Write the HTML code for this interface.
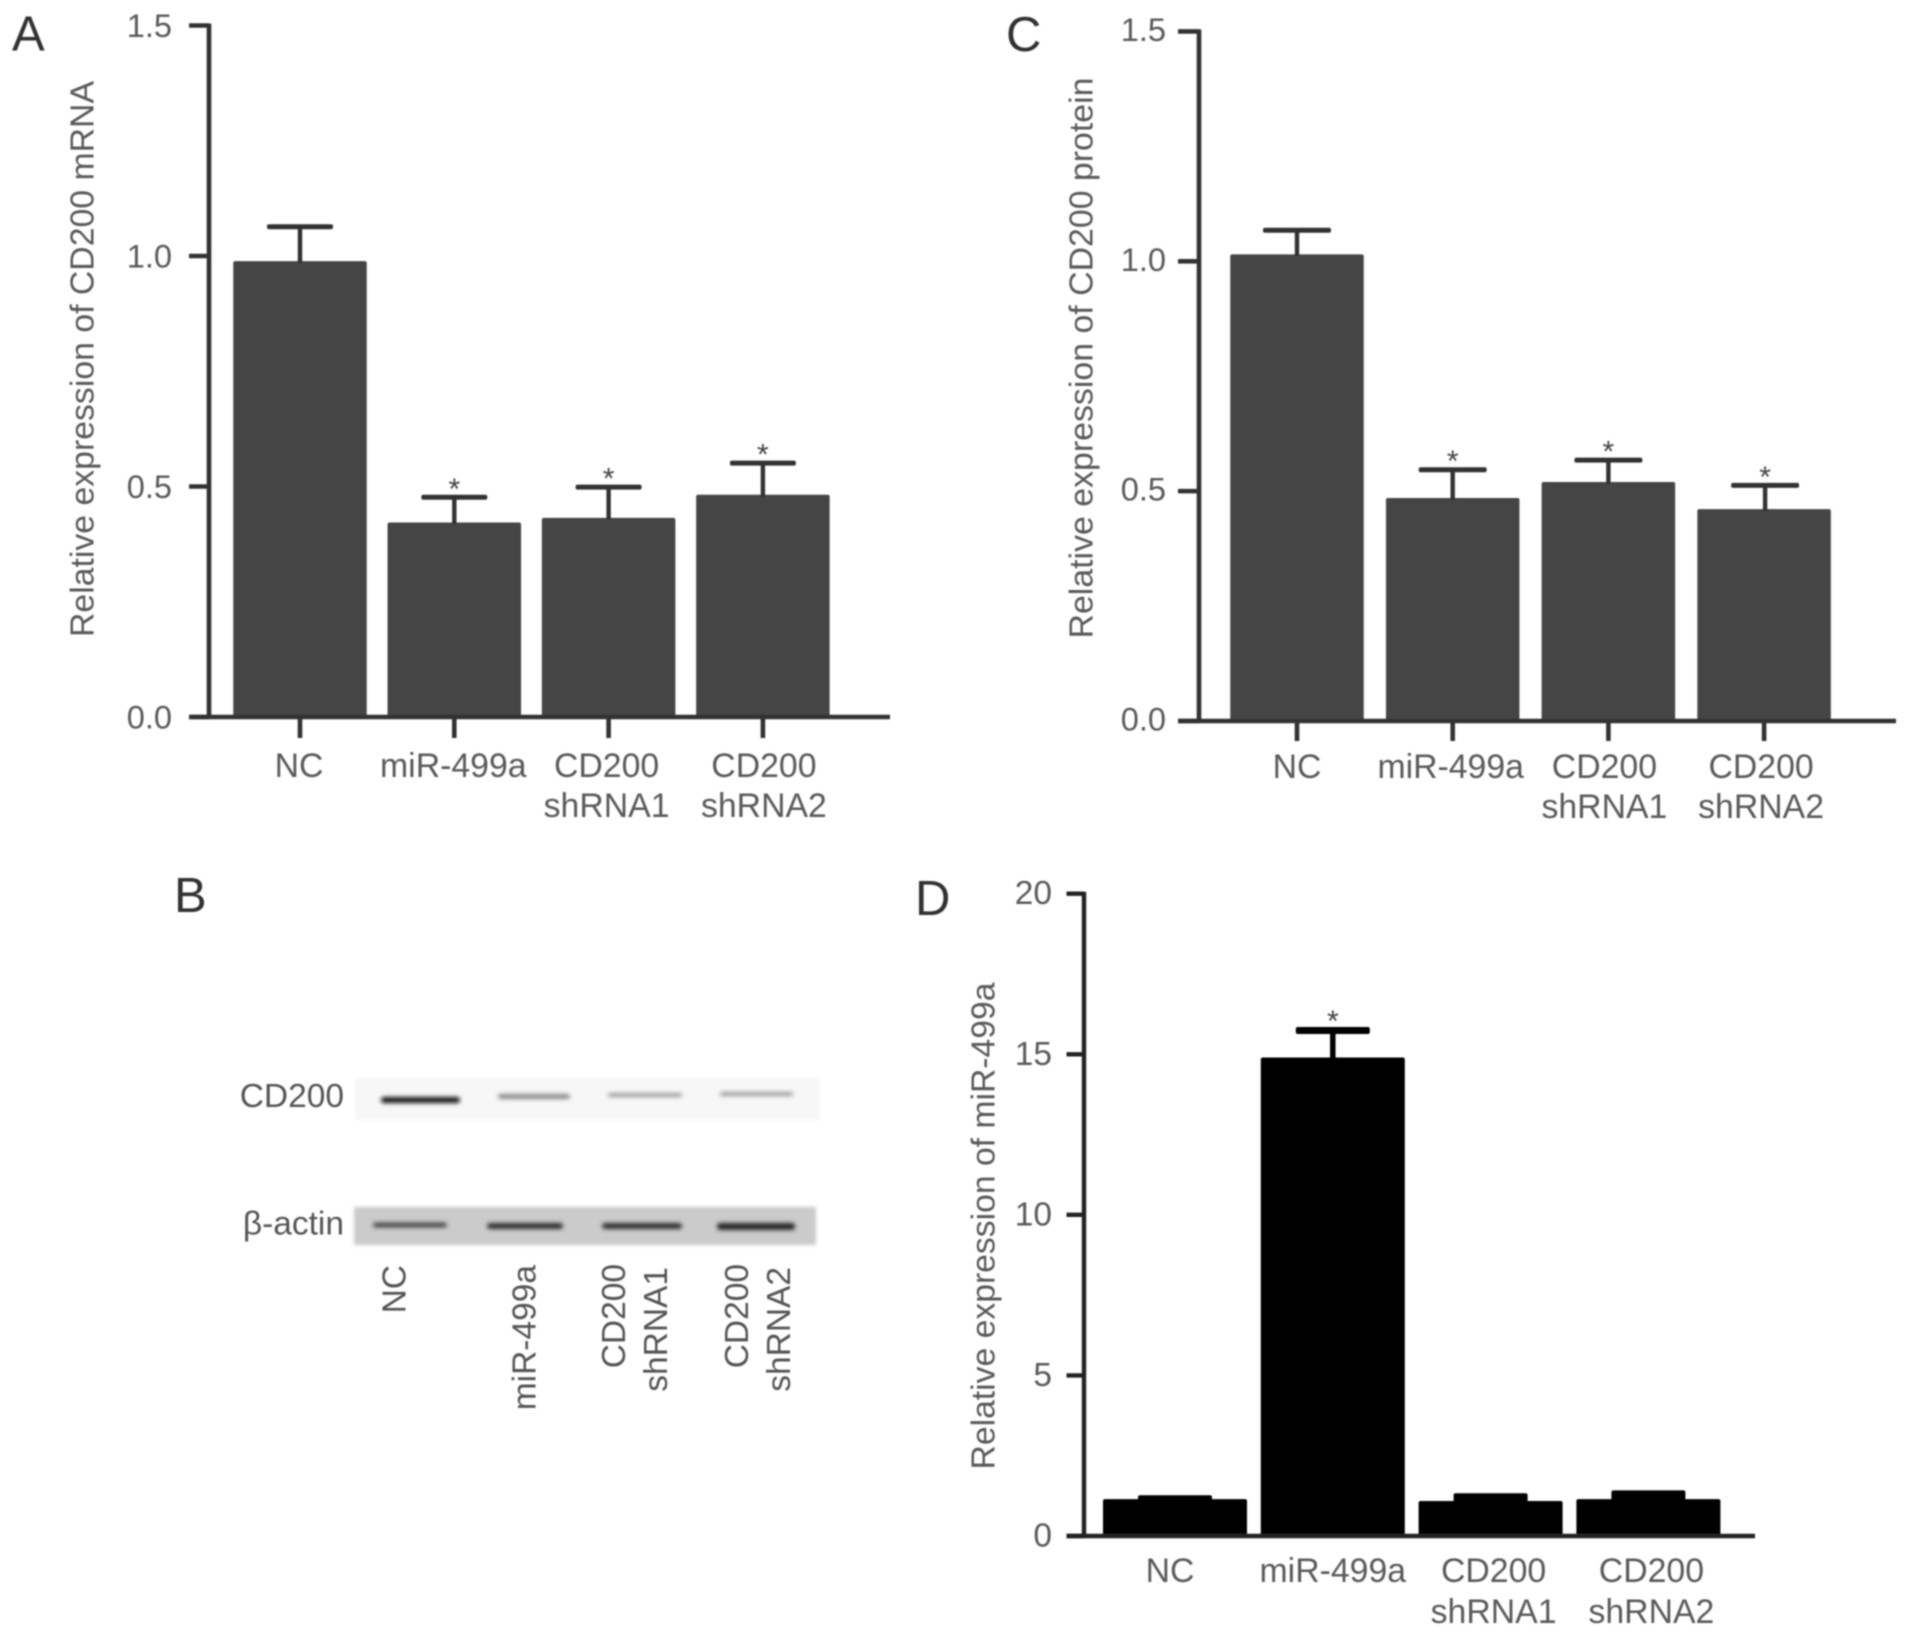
<!DOCTYPE html>
<html lang="en">
<head>
<meta charset="utf-8">
<title>CD200 and miR-499a expression</title>
<style>
html,body{margin:0;padding:0;background:#fff;}
svg{display:block;}
text{font-family:"Liberation Sans",sans-serif;}
</style>
</head>
<body>
<svg id="figure" xmlns="http://www.w3.org/2000/svg" width="1913" height="1637" viewBox="0 0 1913 1637">
  <defs>
    <filter id="soft" x="-5%" y="-5%" width="110%" height="110%"><feGaussianBlur stdDeviation="0.7"/></filter>
    <filter id="bandBlur" x="-20%" y="-300%" width="140%" height="700%"><feGaussianBlur stdDeviation="2"/></filter>
    <filter id="edgeBlur" x="-5%" y="-20%" width="110%" height="140%"><feGaussianBlur stdDeviation="1.5"/></filter>
  </defs>
  <rect width="1913" height="1637" fill="#fff"/>
  <g id="root" filter="url(#soft)">
    <text x="12" y="50.5" font-size="49" fill="#333">A</text>
    <text x="1006" y="51" font-size="49" fill="#333">C</text>
    <text x="174" y="912" font-size="49" fill="#333">B</text>
    <text x="915" y="915" font-size="49" fill="#333">D</text>

    <g>
      <rect x="355" y="1078" width="465" height="42" fill="#f7f7f7" filter="url(#edgeBlur)"/>
      <rect x="354" y="1207" width="462" height="38" fill="#cbcbcb" filter="url(#edgeBlur)"/>
      <g filter="url(#bandBlur)">
        <rect x="381" y="1097" width="79" height="6" rx="3" fill="#111"/>
        <rect x="498" y="1094" width="72" height="5" rx="2.5" fill="#888"/>
        <rect x="608" y="1093" width="74" height="4" rx="2" fill="#999"/>
        <rect x="720" y="1092" width="73" height="4" rx="2" fill="#999"/>
      </g>
      <g filter="url(#bandBlur)">
        <rect x="373" y="1222.5" width="74" height="5" rx="2.5" fill="#444"/>
        <rect x="487" y="1223" width="76" height="6" rx="3" fill="#2a2a2a"/>
        <rect x="602" y="1223" width="80" height="6" rx="3" fill="#2a2a2a"/>
        <rect x="717" y="1223" width="78" height="7" rx="3" fill="#222"/>
      </g>
      <text x="344" y="1107" font-size="33.5" fill="#555" text-anchor="end">CD200</text>
      <text x="344" y="1234.5" font-size="33.5" fill="#555" text-anchor="end">β-actin</text>
      <text transform="translate(405.7,1265) rotate(-90)" font-size="33.5" fill="#555" text-anchor="end">NC</text>
      <text transform="translate(535.7,1265) rotate(-90)" font-size="33.5" fill="#555" text-anchor="end">miR-499a</text>
      <text transform="translate(625,1264) rotate(-90)" font-size="33.5" fill="#555" text-anchor="end">CD200</text>
      <text transform="translate(667,1267) rotate(-90)" font-size="33.5" fill="#555" text-anchor="end">shRNA1</text>
      <text transform="translate(748,1264) rotate(-90)" font-size="33.5" fill="#555" text-anchor="end">CD200</text>
      <text transform="translate(790,1267) rotate(-90)" font-size="33.5" fill="#555" text-anchor="end">shRNA2</text>
    </g>
  </g>
</svg>
<script>
// Shared categories (newline = second label row)
const categories = ['NC', 'miR-499a', 'CD200\nshRNA1', 'CD200\nshRNA2'];

// Panel A: CD200 mRNA
const mrnaMeans = [0.989, 0.422, 0.432, 0.482];
const mrnaErrorTops = [1.069, 0.482, 0.504, 0.556];
const mrnaSignificant = [false, true, true, true];
const mrnaTicks = ['0.0', '0.5', '1.0', '1.5'];

// Panel C: CD200 protein
const proteinMeans = [1.015, 0.485, 0.52, 0.461];
const proteinErrorTops = [1.073, 0.552, 0.573, 0.518];
const proteinSignificant = [false, true, true, true];
const proteinTicks = ['0.0', '0.5', '1.0', '1.5'];

// Panel D: miR-499a
const mirMeans = [1.15, 14.9, 1.09, 1.15];
const mirErrorTops = [1.27, 15.85, 1.33, 1.42];
const mirSignificant = [false, true, false, false];
const mirTicks = ['0', '5', '10', '15', '20'];

const SVG_NS = 'http://www.w3.org/2000/svg';
const root = document.getElementById('root');

function make(tag, attrs, parent) {
  const el = document.createElementNS(SVG_NS, tag);
  Object.keys(attrs).forEach(function (k) { el.setAttribute(k, attrs[k]); });
  parent.appendChild(el);
  return el;
}

function drawPanel(p) {
  const g = make('g', {}, root);
  
  

  const maxTick = parseFloat(p.ticks[p.ticks.length - 1]);
  const y = function (v) { return p.y0 - v * (p.y0 - p.yTop) / maxTick; };
  const x = function (i) { return p.x0 + i * p.step; };

  // bars
  p.means.forEach(function (v, i) {
    const bar = make('rect', { x: x(i) - p.barW / 2, y: y(v), width: p.barW, height: p.y0 - y(v), rx: 2, fill: p.barColor }, g);
    
    
  });

  // error bars
  p.errorTops.forEach(function (v, i) {
    const cx = x(i) + p.errDx[i];
    const gap = y(p.means[i]) - y(v);
    const capH = gap < p.mergeGap ? gap + 1 : p.capW;
    const stem = make('line', { x1: cx, x2: cx, y1: y(p.means[i]) + 2, y2: y(v) + 1, stroke: p.errColor, 'stroke-width': p.stemW }, g);
    
    
    const cap = make('rect', { x: cx - p.capHalf, y: y(v), width: 2 * p.capHalf, height: capH, rx: 2, fill: p.errColor }, g);
    
    
  });

  // significance stars
  p.significant.forEach(function (s, i) {
    if (!s) return;
    const star = make('text', { x: x(i) + p.errDx[i], y: y(p.errorTops[i]) + p.starDy, 'font-size': 30, fill: '#444', 'text-anchor': 'middle' }, g);
    star.textContent = '*';
    
    
  });

  // axes
  const yAxis = make('line', { x1: p.axisX, x2: p.axisX, y1: p.yTop - 2, y2: p.y0 + 2, stroke: p.axisColor, 'stroke-width': p.axisW }, g);
  
  
  const xAxis = make('line', { x1: p.tickLeft, x2: p.xRight, y1: p.y0, y2: p.y0, stroke: p.axisColor, 'stroke-width': p.axisW }, g);
  
  

  // y ticks
  p.ticks.forEach(function (t) {
    const v = parseFloat(t);
    const mark = make('line', { x1: p.tickLeft, x2: p.axisX, y1: y(v), y2: y(v), stroke: p.axisColor, 'stroke-width': p.axisW }, g);
    
    
    const label = make('text', { x: p.tickTextX, y: y(v) + p.tickTextDy, 'font-size': p.tickFont, fill: p.textColor, 'text-anchor': 'end' }, g);
    label.textContent = t;
    
    
  });

  // x ticks and labels
  p.categories.forEach(function (c, i) {
    if (p.xTickLen > 0) {
      const mark = make('line', { x1: x(i), x2: x(i), y1: p.y0, y2: p.y0 + p.xTickLen, stroke: p.axisColor, 'stroke-width': p.axisW }, g);
      
      
    }
    c.split('\n').forEach(function (line, row) {
      const label = make('text', { x: x(i) + p.labelDx[i], y: row === 0 ? p.labelY1 : p.labelY2, 'font-size': p.fontSize, fill: p.textColor, 'text-anchor': 'middle' }, g);
      label.textContent = line;
      
      
    });
  });

  // y axis title
  const title = make('text', {
    transform: 'translate(' + p.titleX + ',' + p.titleY + ') rotate(-90)',
    'font-size': p.titleFont, fill: p.textColor, 'text-anchor': 'middle',
    textLength: p.titleLen, lengthAdjust: 'spacingAndGlyphs'
  }, g);
  title.textContent = p.title;
  
  
}

drawPanel({
  name: 'panel-a-mrna-chart', title: 'Relative expression of CD200 mRNA',
  categories: categories, means: mrnaMeans, errorTops: mrnaErrorTops, significant: mrnaSignificant, ticks: mrnaTicks,
  y0: 717, yTop: 25.5, axisX: 209, tickLeft: 189, xRight: 890,
  x0: 300, step: 154.3, barW: 133.5, barColor: '#444', errColor: '#333', axisColor: '#333',
  axisW: 4.6, stemW: 4.4, capW: 5, capHalf: 33, mergeGap: 0, errDx: [0, 0, 0, 0], starDy: 4,
  xTickLen: 21, labelDx: [-1, -1, -2, 1], labelY1: 777, labelY2: 817,
  fontSize: 33.8, tickFont: 32.6, titleFont: 33.5, textColor: '#5a5a5a', tickTextX: 172, tickTextDy: 11.5,
  titleX: 93.5, titleY: 359, titleLen: 556
});

drawPanel({
  name: 'panel-c-protein-chart', title: 'Relative expression of CD200 protein',
  categories: categories, means: proteinMeans, errorTops: proteinErrorTops, significant: proteinSignificant, ticks: proteinTicks,
  y0: 721, yTop: 31.4, axisX: 1199, tickLeft: 1178, xRight: 1896,
  x0: 1297, step: 155.7, barW: 133.5, barColor: '#444', errColor: '#333', axisColor: '#333',
  axisW: 4.6, stemW: 4.4, capW: 5, capHalf: 34, mergeGap: 0, errDx: [0, 0, 0, 1], starDy: 4,
  xTickLen: 20, labelDx: [0, -2, -4, -3], labelY1: 778, labelY2: 818,
  fontSize: 33.8, tickFont: 32.6, titleFont: 33.5, textColor: '#5a5a5a', tickTextX: 1166, tickTextDy: 9.5,
  titleX: 1092.5, titleY: 358, titleLen: 561
});

drawPanel({
  name: 'panel-d-mir-499a-chart', title: 'Relative expression of miR-499a',
  categories: categories, means: mirMeans, errorTops: mirErrorTops, significant: mirSignificant, ticks: mirTicks,
  y0: 1536, yTop: 893.7, axisX: 1084, tickLeft: 1066.5, xRight: 1755,
  x0: 1175, step: 157.8, barW: 144, barColor: '#000', errColor: '#000', axisColor: '#222',
  axisW: 4.4, stemW: 5.5, capW: 7, capHalf: 37, mergeGap: 14, errDx: [0, 0, 0, 0], starDy: 4,
  xTickLen: 0, labelDx: [-5, 0, 3, 3], labelY1: 1582, labelY2: 1623,
  fontSize: 33.8, tickFont: 33.5, titleFont: 33.5, textColor: '#5a5a5a', tickTextX: 1052, tickTextDy: 10.5,
  titleX: 994.5, titleY: 1226, titleLen: 487
});
</script>
</body>
</html>
